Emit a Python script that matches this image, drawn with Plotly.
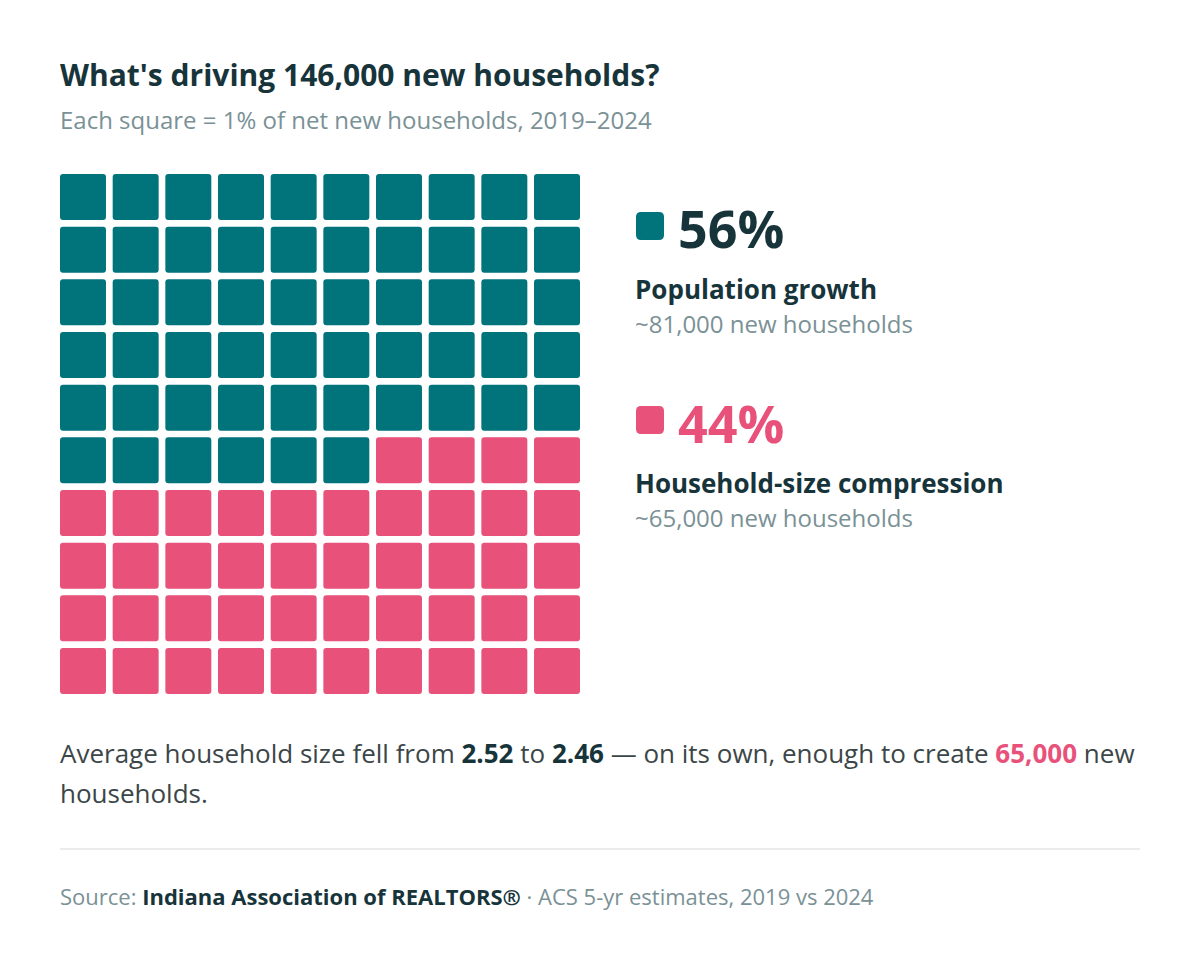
import plotly.graph_objects as go

# waffle data: share of net new households, 2019-2024
categories = ["Population growth", "Household-size compression"]
shares = [56, 44]
households = ["~81,000", "~65,000"]
colors = ["#00737b", "#e8527a"]
n_cols = 10
n_rows = 10

DARK = "#17343b"
GREY = "#7a9196"
BODY = "#3b4648"
FONT = "Open Sans"
W, H = 1200, 958
OFF = 8  # page body margin around the plot div


def px(x):
    return (x - OFF) / W


def py(y):
    return 1 - (y - OFF) / H


def rounded_rect(x0, y0, x1, y1, r):
    # path in paper coords, built from pixel positions
    rx, ry = r / W, r / H
    a, b, c, d = px(x0), py(y1), px(x1), py(y0)
    return (f"M{a + rx},{b} L{c - rx},{b} Q{c},{b} {c},{b + ry} "
            f"L{c},{d - ry} Q{c},{d} {c - rx},{d} L{a + rx},{d} "
            f"Q{a},{d} {a},{d - ry} L{a},{b + ry} Q{a},{b} {a + rx},{b} Z")


# one cell per percent, filled row by row from the top left
cell_x, cell_y, cell_c = [], [], []
idx = 0
for cat, share, col in zip(categories, shares, colors):
    for _ in range(share):
        cell_x.append(idx % n_cols)
        cell_y.append(n_rows - 1 - idx // n_cols)
        cell_c.append(col)
        idx += 1

gap = 0.127
size = 1 - gap

fig = go.Figure()
fig.add_trace(go.Bar(
    x=cell_x,
    y=[size] * len(cell_y),
    base=[v - size / 2 for v in cell_y],
    width=size,
    marker=dict(color=cell_c, line=dict(width=0), cornerradius=3),
    hoverinfo="skip",
    showlegend=False,
))

fig.update_layout(
    width=W, height=H,
    margin=dict(l=0, r=0, t=0, b=0),
    paper_bgcolor="white",
    plot_bgcolor="white",
    barmode="overlay",
    xaxis=dict(domain=[px(60), px(580)], range=[-0.5 + gap / 2, n_cols - 0.5 - gap / 2],
               visible=False, fixedrange=True),
    yaxis=dict(domain=[py(694), py(174)], range=[-0.5 + gap / 2, n_rows - 0.5 - gap / 2],
               visible=False, fixedrange=True),
    font=dict(family=FONT, color=DARK),
)

ann = []


def text(x, y, s, size, color, bold=False):
    if bold:
        s = f"<b>{s}</b>"
    ann.append(dict(x=px(x - 2), y=py(y), xref="paper", yref="paper", text=s, showarrow=False,
                    xanchor="left", yanchor="middle",
                    font=dict(family=FONT, size=size, color=color)))


text(60, 74, "What's driving 146,000 new households?", 30, DARK, bold=True)
text(60, 120, "Each square = 1% of net new households, 2019–2024", 24, GREY)

# legend blocks on the right
shapes = []
for i, (cat, share, hh, col) in enumerate(zip(categories, shares, households, colors)):
    top = 226 + i * 194
    shapes.append(dict(type="path", xref="paper", yref="paper",
                       path=rounded_rect(636, top - 14, 664, top + 14, 5),
                       fillcolor=col, line=dict(width=0)))
    text(678, top + 2, f"{share}%", 52, DARK if i == 0 else col, bold=True)
    text(635, top + 63, cat, 26, DARK, bold=True)
    text(635, top + 97, f"{hh} new households", 24, GREY)

text(60, 753, f"Average household size fell from <b><span style='color:{DARK}'>2.52</span></b> to "
     f"<b><span style='color:{DARK}'>2.46</span></b> — on its own, enough to create "
     f"<b><span style='color:{colors[1]}'>65,000</span></b> new", 26, BODY)
text(60, 793, "households.", 26, BODY)

shapes.append(dict(type="line", xref="paper", yref="paper", x0=px(60), x1=px(1140),
                   y0=py(849), y1=py(849), line=dict(color="#ebebeb", width=2)))

text(60, 896, f"Source: <b><span style='color:{DARK}'>Indiana Association of REALTORS®</span></b>"
     " · ACS 5-yr estimates, 2019 vs 2024", 22, GREY)

fig.update_layout(annotations=ann, shapes=shapes)

fig.write_html("out.html", config={"displayModeBar": False})
